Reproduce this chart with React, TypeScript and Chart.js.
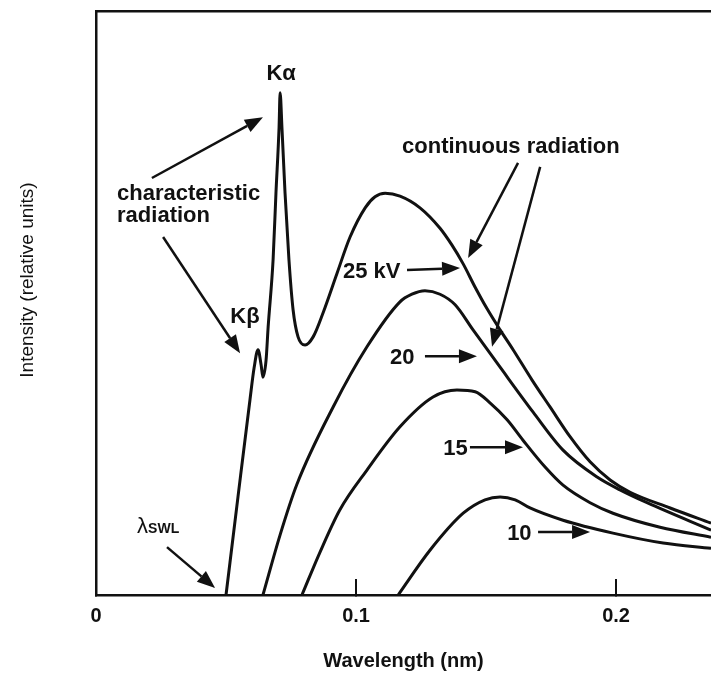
import React, { useEffect, useRef } from "react";
import { Chart, registerables } from "chart.js";

Chart.register(...registerables);

// ---- axis ----
const xTickValues = [0, 0.1, 0.2];
const xMin = 0;
const xMax = 0.2365;
const yMin = 0;
const yMax = 100;
const xTitle = "Wavelength (nm)";
const yTitle = "Intensity (relative units)";

// ---- series (wavelength nm, intensity relative units) ----
const wl25 = [0.05, 0.0546, 0.0592, 0.0608, 0.0623, 0.0635, 0.0642, 0.0654, 0.0662, 0.0681, 0.0692, 0.0704, 0.0708, 0.0715, 0.0727, 0.0742, 0.0758, 0.0777, 0.0804, 0.0835, 0.0873, 0.0927, 0.0977, 0.1035, 0.1073, 0.1112, 0.1169, 0.1246, 0.1323, 0.1369, 0.1412, 0.1458, 0.1504, 0.1554, 0.1604, 0.1677, 0.1746, 0.1823, 0.19, 0.1977, 0.2054, 0.2208, 0.2365];
const i25 = [0, 16.8, 33.4, 38.9, 42.0, 39.4, 37.3, 40.2, 45.9, 57.4, 68.8, 80.1, 86.0, 80.1, 68.8, 57.4, 48.8, 44.2, 42.8, 44.2, 48.3, 55.1, 61.3, 66.3, 68.2, 68.8, 68.3, 66.3, 62.8, 59.9, 56.7, 52.7, 49.0, 45.4, 42.0, 36.8, 32.2, 27.1, 22.8, 19.7, 17.6, 14.9, 12.3];

const wl20 = [0.0642, 0.0708, 0.0773, 0.0912, 0.1042, 0.1169, 0.1215, 0.1265, 0.1323, 0.1381, 0.145, 0.1554, 0.1681, 0.1796, 0.1927, 0.2015, 0.2119, 0.2365];
const i20 = [0, 10.3, 19.0, 32.2, 42.5, 50.2, 51.5, 52.1, 51.5, 49.7, 45.4, 39.0, 31.3, 24.8, 20.2, 18.0, 15.8, 11.1];

const wl15 = [0.0792, 0.0862, 0.0938, 0.1042, 0.1169, 0.1296, 0.1388, 0.1458, 0.1515, 0.1581, 0.1642, 0.1727, 0.1796, 0.19, 0.1988, 0.2169, 0.2365];
const i15 = [0, 7.4, 14.6, 21.4, 28.8, 33.9, 35.1, 34.8, 32.9, 30.0, 26.5, 21.9, 18.8, 15.8, 14.0, 11.6, 9.9];

const wl10 = [0.1162, 0.1285, 0.1412, 0.1496, 0.1554, 0.1612, 0.1669, 0.1796, 0.1988, 0.2181, 0.2365];
const i10 = [0, 7.7, 14.0, 16.3, 16.8, 16.3, 14.9, 12.8, 10.6, 8.9, 8.0];

const seriesLabels = ["25 kV", "20", "15", "10"];

// ---- annotations (in data units) ----
const TEXT_BOLD = "bold 22px 'Liberation Sans', Arial, sans-serif";
const annotTexts = [
  { text: "Kα", x: 0.0712, y: 88.2, align: "center" },
  { text: "Kβ", x: 0.0573, y: 46.6, align: "center" },
  { text: "characteristic", x: 0.0081, y: 67.6, align: "left" },
  { text: "radiation", x: 0.0081, y: 63.9, align: "left" },
  { text: "continuous radiation", x: 0.1177, y: 75.7, align: "left" },
  { text: seriesLabels[0], x: 0.095, y: 54.3, align: "left" },
  { text: seriesLabels[1], x: 0.1131, y: 39.6, align: "left" },
  { text: seriesLabels[2], x: 0.1335, y: 24.0, align: "left" },
  { text: seriesLabels[3], x: 0.1581, y: 9.4, align: "left" },
];
const annotArrows = [
  { x1: 0.0215, y1: 71.4, x2: 0.0642, y2: 81.8 },
  { x1: 0.0258, y1: 61.3, x2: 0.0554, y2: 41.4 },
  { x1: 0.1623, y1: 74.0, x2: 0.1431, y2: 57.7 },
  { x1: 0.1708, y1: 73.3, x2: 0.1523, y2: 42.5 },
  { x1: 0.0273, y1: 8.2, x2: 0.0458, y2: 1.2 },
  { x1: 0.1196, y1: 55.65, x2: 0.14, y2: 56.0 },
  { x1: 0.1265, y1: 40.9, x2: 0.1465, y2: 40.9 },
  { x1: 0.1438, y1: 25.3, x2: 0.1642, y2: 25.3 },
  { x1: 0.17, y1: 10.8, x2: 0.19, y2: 10.8 },
];
const lambdaLabel = { main: "λ", sub: "SWL", x: 0.0158, y: 10.6 };

function toPoints(xs: number[], ys: number[]) {
  return xs.map((x, i) => ({ x, y: ys[i] }));
}

function drawArrow(ctx: CanvasRenderingContext2D, x1: number, y1: number, x2: number, y2: number) {
  const ang = Math.atan2(y2 - y1, x2 - x1);
  const headLen = 18;
  const headHalf = 7;
  const bx = x2 - headLen * Math.cos(ang);
  const by = y2 - headLen * Math.sin(ang);
  ctx.beginPath();
  ctx.lineWidth = 2.5;
  ctx.moveTo(x1, y1);
  ctx.lineTo(bx, by);
  ctx.stroke();
  ctx.beginPath();
  ctx.moveTo(x2, y2);
  ctx.lineTo(bx + headHalf * Math.sin(ang), by - headHalf * Math.cos(ang));
  ctx.lineTo(bx - headHalf * Math.sin(ang), by + headHalf * Math.cos(ang));
  ctx.closePath();
  ctx.fill();
}

const annotationPlugin = {
  id: "xrayAnnotations",
  afterDatasetsDraw(chart: any) {
    const { ctx, scales } = chart;
    const xs = scales.x;
    const ys = scales.y;
    const px = (v: number) => xs.getPixelForValue(v);
    const py = (v: number) => ys.getPixelForValue(v);
    ctx.save();
    ctx.fillStyle = "#111";
    ctx.strokeStyle = "#111";
    ctx.textBaseline = "alphabetic";
    ctx.font = TEXT_BOLD;
    for (const t of annotTexts) {
      ctx.textAlign = t.align as CanvasTextAlign;
      ctx.fillText(t.text, px(t.x), py(t.y));
    }
    // lambda SWL
    ctx.textAlign = "left";
    ctx.font = "22px 'Liberation Sans', Arial, sans-serif";
    const lx = px(lambdaLabel.x);
    const ly = py(lambdaLabel.y);
    ctx.fillText(lambdaLabel.main, lx, ly);
    const w = ctx.measureText(lambdaLabel.main).width;
    ctx.font = "bold 14px 'Liberation Sans', Arial, sans-serif";
    ctx.fillText(lambdaLabel.sub, lx + w, ly);
    for (const a of annotArrows) {
      drawArrow(ctx, px(a.x1), py(a.y1), px(a.x2), py(a.y2));
    }
    // y-axis title
    ctx.save();
    ctx.font = "19px 'Liberation Sans', Arial, sans-serif";
    ctx.textAlign = "center";
    ctx.textBaseline = "middle";
    ctx.translate(28, 280);
    ctx.rotate(-Math.PI / 2);
    ctx.fillText(yTitle, 0, 0);
    ctx.restore();
    ctx.restore();
  },
};

export default function App() {
  const ref = useRef<HTMLCanvasElement | null>(null);
  useEffect(() => {
    document.body.style.margin = "0";
    const canvas = ref.current;
    if (!canvas) return;
    const lineStyle = {
      borderColor: "#111",
      borderWidth: 3,
      pointRadius: 0,
      fill: false,
      cubicInterpolationMode: "monotone" as const,
    };
    const chart = new Chart(canvas, {
      type: "line",
      data: {
        datasets: [
          { label: seriesLabels[0], data: toPoints(wl25, i25), ...lineStyle },
          { label: seriesLabels[1], data: toPoints(wl20, i20), ...lineStyle },
          { label: seriesLabels[2], data: toPoints(wl15, i15), ...lineStyle },
          { label: seriesLabels[3], data: toPoints(wl10, i10), ...lineStyle },
        ],
      },
      options: {
        responsive: false,
        animation: false,
        devicePixelRatio: 1,
        layout: { padding: { top: 11, left: 0, right: 0, bottom: 0 } },
        plugins: { legend: { display: false }, tooltip: { enabled: false } },
        scales: {
          x: {
            type: "linear",
            position: "bottom",
            min: xMin,
            max: xMax,
            afterFit: (s: any) => { s.height = 82; },
            afterBuildTicks: (s: any) => { s.ticks = xTickValues.map((v) => ({ value: v })); },
            ticks: {
              includeBounds: false,
              padding: 25,
              color: "#111",
              font: { family: "'Liberation Sans', Arial, sans-serif", size: 20, weight: "bold" },
              callback: (v: any) => String(v),
              maxRotation: 0,
            },
            grid: { display: true, drawOnChartArea: false, drawTicks: true, tickLength: -16, color: "#111", lineWidth: 2 },
            border: { display: true, color: "#111", width: 2.5 },
            title: {
              display: true,
              text: xTitle,
              color: "#111",
              font: { family: "'Liberation Sans', Arial, sans-serif", size: 20, weight: "bold" },
              padding: { top: 0, bottom: 4 },
            },
          },
          xTop: {
            type: "linear",
            position: "top",
            min: xMin,
            max: xMax,
            afterFit: (s: any) => { s.height = 0; },
            ticks: { display: false },
            grid: { display: false },
            border: { display: true, color: "#111", width: 2.5 },
          },
          y: {
            type: "linear",
            position: "left",
            min: yMin,
            max: yMax,
            afterFit: (s: any) => { s.width = 96; },
            ticks: { display: false },
            grid: { display: false },
            border: { display: true, color: "#111", width: 2.5 },
          },
        },
      },
      plugins: [annotationPlugin],
    });
    return () => chart.destroy();
  }, []);
  return <canvas ref={ref} width={711} height={677} style={{ display: "block" }} />;
}
